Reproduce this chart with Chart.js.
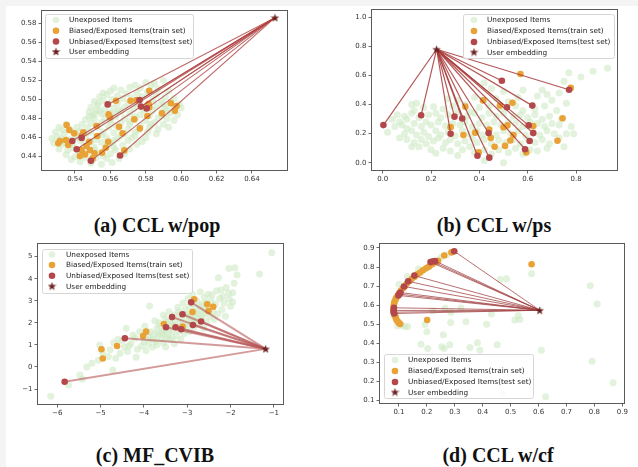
<!DOCTYPE html>
<html><head><meta charset="utf-8">
<script src="https://cdn.jsdelivr.net/npm/chart.js@4.4.1/dist/chart.umd.min.js"></script>
<style>
html,body{margin:0;padding:0}
body{width:638px;height:467px;overflow:hidden;position:relative;background:#f4f4f4}
#page{position:absolute;left:6px;top:6px;width:632px;height:461px;background:#fff}
canvas{position:absolute}
.cap{position:absolute;font:bold 20px "Liberation Serif",serif;color:#111;white-space:nowrap;transform:translateX(-50%);line-height:1}
</style></head>
<body>
<div id="page"></div>
<div class="cap" style="left:157px;top:215px">(a) CCL w/pop</div>
<div class="cap" style="left:494px;top:215px">(b) CCL w/ps</div>
<div class="cap" style="left:155px;top:445px">(c) MF_CVIB</div>
<div class="cap" style="left:498px;top:445px">(d) CCL w/cf</div>
<script>
const legendLabels = ['Unexposed Items','Biased/Exposed Items(train set)','Unbiased/Exposed Items(test set)','User embedding'];

// ---------- (a) CCL w/pop ----------
const aXTicks=[0.54,0.56,0.58,0.60,0.62,0.64];
const aXLabels=['0.54','0.56','0.58','0.60','0.62','0.64'];
const aYTicks=[0.44,0.46,0.48,0.50,0.52,0.54,0.56,0.58];
const aYLabels=['0.44','0.46','0.48','0.50','0.52','0.54','0.56','0.58'];
const aUser=[0.653,0.586];
const aTest=[[0.5585,0.4949],[0.5765,0.4994],[0.5773,0.4926],[0.5805,0.4907],[0.5438,0.4597],[0.5385,0.4564],[0.541,0.4478],[0.549,0.4356],[0.5655,0.4412]];
const aTrain=[[0.5632,0.4988],[0.5714,0.4988],[0.5748,0.4995],[0.582,0.5093],[0.5816,0.4956],[0.582,0.4918],[0.5809,0.4827],[0.5892,0.4855],[0.5942,0.496],[0.5974,0.4932],[0.5965,0.4883],[0.559,0.4844],[0.5598,0.4813],[0.5735,0.4792],[0.5649,0.4715],[0.5767,0.4697],[0.5669,0.4645],[0.5522,0.4722],[0.5526,0.4617],[0.5588,0.4557],[0.5575,0.4494],[0.5554,0.4442],[0.5679,0.4466],[0.5315,0.4564],[0.5306,0.454],[0.5353,0.4732],[0.5368,0.468],[0.5396,0.4645],[0.5349,0.4575],[0.5447,0.4655],[0.5438,0.462],[0.5481,0.4557],[0.5466,0.4512],[0.5438,0.447],[0.5457,0.4424],[0.5428,0.4406],[0.5485,0.447],[0.55,0.4382],[0.5511,0.4436],[0.5362,0.4522]];
const aUnexposed=[[0.590,0.520],[0.583,0.515],[0.577,0.512],[0.571,0.513],[0.566,0.510],[0.560,0.509],[0.587,0.511],[0.593,0.509],[0.554,0.503],[0.558,0.505],[0.564,0.504],[0.569,0.506],[0.575,0.507],[0.581,0.508],[0.586,0.505],[0.591,0.503],[0.596,0.501],[0.551,0.498],[0.556,0.499],[0.561,0.500],[0.567,0.501],[0.572,0.502],[0.578,0.503],[0.584,0.500],[0.589,0.498],[0.594,0.497],[0.599,0.495],[0.600,0.491],[0.549,0.492],[0.553,0.494],[0.559,0.495],[0.564,0.496],[0.570,0.497],[0.575,0.495],[0.581,0.494],[0.586,0.493],[0.591,0.492],[0.596,0.490],[0.548,0.487],[0.552,0.489],[0.557,0.490],[0.562,0.491],[0.568,0.492],[0.573,0.490],[0.579,0.489],[0.584,0.488],[0.589,0.487],[0.594,0.486],[0.598,0.484],[0.550,0.483],[0.555,0.485],[0.560,0.486],[0.566,0.487],[0.571,0.485],[0.577,0.484],[0.582,0.483],[0.587,0.481],[0.592,0.480],[0.596,0.478],[0.546,0.479],[0.551,0.480],[0.557,0.481],[0.563,0.482],[0.568,0.480],[0.574,0.479],[0.580,0.478],[0.585,0.476],[0.590,0.474],[0.593,0.471],[0.544,0.474],[0.549,0.475],[0.555,0.476],[0.560,0.477],[0.566,0.475],[0.571,0.474],[0.577,0.473],[0.582,0.471],[0.587,0.469],[0.586,0.464],[0.581,0.466],[0.576,0.468],[0.570,0.469],[0.565,0.470],[0.559,0.471],[0.553,0.471],[0.547,0.470],[0.541,0.471],[0.535,0.474],[0.531,0.471],[0.537,0.469],[0.543,0.467],[0.549,0.466],[0.556,0.466],[0.562,0.465],[0.568,0.464],[0.574,0.462],[0.580,0.460],[0.578,0.456],[0.529,0.466],[0.534,0.464],[0.540,0.463],[0.546,0.462],[0.552,0.461],[0.558,0.460],[0.564,0.459],[0.570,0.457],[0.575,0.453],[0.527,0.459],[0.532,0.459],[0.537,0.458],[0.543,0.457],[0.549,0.456],[0.555,0.455],[0.561,0.454],[0.567,0.452],[0.571,0.448],[0.528,0.454],[0.533,0.453],[0.539,0.452],[0.545,0.451],[0.551,0.450],[0.557,0.449],[0.563,0.447],[0.568,0.443],[0.531,0.448],[0.536,0.447],[0.542,0.446],[0.548,0.445],[0.554,0.444],[0.560,0.443],[0.565,0.438],[0.535,0.442],[0.540,0.440],[0.546,0.439],[0.552,0.439],[0.558,0.438],[0.543,0.435],[0.549,0.433],[0.555,0.432],[0.561,0.434],[0.556,0.507],[0.562,0.512],[0.574,0.515],[0.580,0.518],[0.585,0.517],[0.553,0.496],[0.576,0.498],[0.590,0.495],[0.597,0.493],[0.554,0.488],[0.565,0.489],[0.580,0.491],[0.592,0.489],[0.551,0.485],[0.563,0.485],[0.574,0.482],[0.589,0.483],[0.548,0.482],[0.560,0.479],[0.571,0.477],[0.583,0.474],[0.552,0.473],[0.563,0.473],[0.574,0.466],[0.539,0.466],[0.533,0.468],[0.546,0.465],[0.555,0.463],[0.566,0.462],[0.572,0.460],[0.530,0.461],[0.541,0.460],[0.552,0.458],[0.562,0.457],[0.534,0.456],[0.546,0.454],[0.558,0.452],[0.539,0.449],[0.551,0.447],[0.562,0.450],[0.544,0.442],[0.556,0.441],[0.550,0.436],[0.538,0.437]];

// ---------- (b) CCL w/ps ----------
const bXTicks=[0.0,0.2,0.4,0.6,0.8];
const bXLabels=['0.0','0.2','0.4','0.6','0.8'];
const bYTicks=[0.0,0.2,0.4,0.6,0.8,1.0];
const bYLabels=['0.0','0.2','0.4','0.6','0.8','1.0'];
const bUser=[0.223,0.781];
const bTest=[[0.003,0.259],[0.159,0.327],[0.297,0.317],[0.329,0.304],[0.281,0.199],[0.392,0.048],[0.441,0.035],[0.438,0.205],[0.493,0.564],[0.514,0.381],[0.619,0.393],[0.604,0.257],[0.623,0.204],[0.608,0.15],[0.589,0.093],[0.771,0.502]];
const bTrain=[[0.57,0.611],[0.778,0.515],[0.415,0.429],[0.342,0.386],[0.485,0.393],[0.537,0.413],[0.281,0.245],[0.334,0.191],[0.383,0.207],[0.441,0.228],[0.447,0.171],[0.5,0.244],[0.516,0.257],[0.541,0.19],[0.528,0.153],[0.506,0.116],[0.463,0.11],[0.397,0.071],[0.594,0.071],[0.623,0.252],[0.744,0.306],[0.723,0.151]];
const bUnexposed=[[0.14,0.41],[0.12,0.40],[0.27,0.44],[0.31,0.43],[0.38,0.45],[0.42,0.43],[0.47,0.44],[0.52,0.42],[0.56,0.45],[0.64,0.46],[0.68,0.47],[0.70,0.43],[0.66,0.50],[0.50,0.49],[0.42,0.55],[0.45,0.51],[0.58,0.50],[0.77,0.62],[0.82,0.59],[0.87,0.63],[0.93,0.65],[0.75,0.56],[0.73,0.48],[0.76,0.41],[0.06,0.33],[0.09,0.32],[0.17,0.38],[0.21,0.385],[0.25,0.37],[0.29,0.39],[0.34,0.40],[0.40,0.38],[0.44,0.39],[0.49,0.37],[0.55,0.39],[0.58,0.36],[0.63,0.37],[0.67,0.39],[0.72,0.36],[0.13,0.36],[0.36,0.35],[0.04,0.30],[0.07,0.28],[0.10,0.30],[0.12,0.34],[0.15,0.31],[0.19,0.33],[0.22,0.34],[0.24,0.31],[0.27,0.33],[0.31,0.35],[0.35,0.32],[0.38,0.34],[0.41,0.31],[0.44,0.34],[0.47,0.32],[0.50,0.34],[0.54,0.32],[0.57,0.33],[0.60,0.31],[0.63,0.33],[0.66,0.30],[0.69,0.32],[0.74,0.30],[0.02,0.21],[0.05,0.25],[0.08,0.26],[0.10,0.235],[0.13,0.27],[0.16,0.25],[0.18,0.28],[0.20,0.26],[0.23,0.28],[0.26,0.255],[0.29,0.27],[0.32,0.26],[0.34,0.28],[0.37,0.25],[0.40,0.27],[0.43,0.26],[0.46,0.28],[0.49,0.26],[0.52,0.28],[0.55,0.27],[0.58,0.25],[0.61,0.28],[0.64,0.27],[0.67,0.25],[0.70,0.27],[0.73,0.26],[0.78,0.25],[0.07,0.17],[0.09,0.20],[0.12,0.22],[0.14,0.19],[0.17,0.21],[0.19,0.18],[0.22,0.22],[0.24,0.19],[0.27,0.21],[0.30,0.185],[0.33,0.22],[0.36,0.20],[0.39,0.22],[0.41,0.19],[0.44,0.21],[0.47,0.19],[0.50,0.22],[0.53,0.20],[0.56,0.22],[0.59,0.19],[0.62,0.21],[0.65,0.19],[0.68,0.22],[0.71,0.20],[0.76,0.20],[0.79,0.20],[0.10,0.16],[0.13,0.14],[0.16,0.16],[0.18,0.13],[0.21,0.15],[0.23,0.17],[0.26,0.14],[0.28,0.16],[0.31,0.13],[0.34,0.15],[0.37,0.17],[0.39,0.14],[0.42,0.16],[0.45,0.13],[0.48,0.155],[0.51,0.14],[0.54,0.16],[0.57,0.13],[0.60,0.16],[0.63,0.14],[0.66,0.16],[0.69,0.13],[0.73,0.17],[0.12,0.11],[0.15,0.11],[0.20,0.09],[0.22,0.065],[0.25,0.10],[0.28,0.08],[0.31,0.05],[0.33,0.09],[0.36,0.11],[0.38,0.07],[0.42,0.09],[0.42,0.015],[0.45,0.06],[0.48,0.09],[0.50,0.0],[0.52,0.07],[0.55,0.10],[0.58,0.06],[0.61,0.09],[0.64,0.08],[0.68,0.10],[0.75,0.11]];

// ---------- (c) MF_CVIB ----------
const cXTicks=[-6,-5,-4,-3,-2,-1];
const cXLabels=['\u22126','\u22125','\u22124','\u22123','\u22122','\u22121'];
const cYTicks=[-1,0,1,2,3,4,5];
const cYLabels=['\u22121','0','1','2','3','4','5'];
const cUser=[-1.19,0.82];
const cTest=[[-5.83,-0.67],[-4.44,1.3],[-2.91,2.93],[-3.35,2.26],[-3.11,2.39],[-2.68,2.06],[-2.87,1.9],[-3.49,1.8],[-3.27,1.8],[-3.14,1.71]];
const cTrain=[[-4.98,0.8],[-4.95,0.38],[-4.62,0.95],[-4.02,1.4],[-3.95,1.6],[-3.54,1.95],[-3.11,1.83],[-2.84,3.07],[-2.88,2.49],[-2.54,2.84],[-2.51,2.54],[-2.4,2.73]];
const cUnexposed=[[-6.15,-1.33],[-5.74,-0.82],[-5.48,-0.36],[-5.42,-0.55],[-5.32,0.0],[-5.2,0.17],[-5.05,0.3],[-4.72,-0.14],[-4.82,0.47],[-4.95,0.62],[-5.02,1.0],[-4.78,0.78],[-4.65,0.4],[-4.55,0.62],[-4.7,1.1],[-4.6,1.25],[-4.45,0.9],[-4.38,0.7],[-4.18,0.44],[-4.3,1.05],[-4.2,1.3],[-4.41,1.75],[-4.15,0.8],[-4.05,0.95],[-4.0,1.15],[-3.95,0.75],[-4.1,1.6],[-3.98,1.85],[-3.87,2.76],[-3.85,1.3],[-3.9,1.05],[-3.8,0.9],[-3.75,1.5],[-3.7,1.75],[-3.72,1.15],[-3.65,2.0],[-3.6,1.3],[-3.55,1.1],[-3.5,0.9],[-3.58,1.6],[-3.5,2.2],[-3.45,1.45],[-3.4,1.25],[-3.42,2.5],[-3.38,1.95],[-3.35,1.6],[-3.3,1.05],[-3.28,2.1],[-3.25,1.4],[-3.22,2.7],[-3.2,1.65],[-3.18,2.35],[-3.15,1.25],[-3.12,2.0],[-3.1,2.9],[-3.08,1.5],[-3.05,2.6],[-3.02,1.85],[-3.0,2.25],[-2.98,3.1],[-2.95,1.6],[-2.92,2.45],[-2.9,2.05],[-2.88,3.3],[-2.85,1.8],[-2.82,2.7],[-2.8,2.3],[-2.78,3.0],[-2.75,1.95],[-2.72,2.55],[-2.7,3.4],[-2.68,2.2],[-2.65,2.85],[-2.62,1.75],[-2.6,3.15],[-2.58,2.45],[-2.55,2.05],[-2.52,3.3],[-2.5,2.7],[-2.48,2.3],[-2.45,3.0],[-2.43,3.26],[-2.4,2.5],[-2.38,2.15],[-2.35,2.85],[-2.32,3.45],[-2.3,2.4],[-2.28,4.05],[-2.25,3.1],[-2.22,3.49],[-2.2,2.6],[-2.18,3.19],[-2.15,2.9],[-2.12,2.3],[-2.1,3.6],[-2.05,3.34],[-2.04,4.46],[-2.03,3.08],[-2.0,2.75],[-1.95,3.37],[-1.92,3.79],[-1.9,4.5],[-1.85,4.17],[-1.95,2.95],[-1.33,4.21],[-1.05,5.18],[-3.9,1.4],[-3.78,1.25],[-3.68,1.45],[-3.62,1.85],[-3.52,1.65],[-3.48,1.35],[-3.4,1.7],[-3.32,1.9],[-3.3,2.35],[-3.25,1.85],[-3.15,2.15],[-3.1,1.75],[-3.05,2.4],[-3.0,1.95],[-2.95,2.75],[-2.9,2.2],[-2.85,2.5],[-2.75,2.4],[-2.7,2.75],[-2.65,2.3],[-2.6,2.6],[-2.55,2.9],[-2.8,2.1],[-2.95,2.3],[-3.2,2.5],[-3.45,2.05],[-3.6,1.5],[-3.7,1.0],[-3.35,1.3],[-3.55,2.35],[-3.75,2.1],[-3.85,1.6],[-4.25,1.45],[-4.5,1.2],[-4.35,0.95]];

// ---------- (d) CCL w/cf ----------
const dXTicks=[0.1,0.2,0.3,0.4,0.5,0.6,0.7,0.8,0.9];
const dXLabels=['0.1','0.2','0.3','0.4','0.5','0.6','0.7','0.8','0.9'];
const dYTicks=[0.1,0.2,0.3,0.4,0.5,0.6,0.7,0.8,0.9];
const dYLabels=['0.1','0.2','0.3','0.4','0.5','0.6','0.7','0.8','0.9'];
const dUser=[0.604,0.573];
const dTest=[[0.298,0.883],[0.229,0.832],[0.213,0.826],[0.22,0.829],[0.155,0.755],[0.133,0.725],[0.118,0.698],[0.105,0.666],[0.102,0.658],[0.098,0.651],[0.082,0.586],[0.081,0.572],[0.081,0.563],[0.083,0.556]];
const dTrain=[[0.104,0.501],[0.099,0.508],[0.094,0.517],[0.09,0.526],[0.088,0.537],[0.085,0.546],[0.083,0.556],[0.081,0.569],[0.08,0.579],[0.081,0.591],[0.082,0.603],[0.083,0.613],[0.087,0.627],[0.09,0.637],[0.096,0.651],[0.101,0.663],[0.107,0.675],[0.114,0.689],[0.121,0.699],[0.128,0.713],[0.137,0.725],[0.146,0.738],[0.156,0.749],[0.166,0.762],[0.176,0.771],[0.186,0.783],[0.197,0.793],[0.207,0.802],[0.219,0.814],[0.231,0.825],[0.24,0.833],[0.262,0.861],[0.288,0.877],[0.575,0.815],[0.201,0.522]];
const dUnexposed=[[0.575,0.765],[0.462,0.735],[0.485,0.738],[0.785,0.702],[0.81,0.606],[0.222,0.571],[0.265,0.583],[0.286,0.562],[0.322,0.585],[0.34,0.513],[0.285,0.509],[0.414,0.5],[0.431,0.553],[0.515,0.522],[0.527,0.545],[0.533,0.524],[0.121,0.486],[0.131,0.488],[0.193,0.498],[0.2,0.46],[0.259,0.444],[0.179,0.395],[0.203,0.372],[0.253,0.381],[0.262,0.372],[0.282,0.392],[0.354,0.377],[0.381,0.403],[0.39,0.363],[0.452,0.392],[0.61,0.363],[0.792,0.305],[0.867,0.193],[0.625,0.119],[0.471,0.137],[0.49,0.25],[0.08,0.55],[0.085,0.62],[0.09,0.64],[0.095,0.49],[0.11,0.495],[0.1,0.71],[0.13,0.75],[0.17,0.79],[0.25,0.85],[0.27,0.865]];

// ---------- drawing ----------
const GREEN='rgba(206,233,197,0.6)', ORANGE='#e8a236', RED='#b3474a', STAR='#6b2121';

function starCanvas(size,color){
  const c=document.createElement('canvas'); c.width=c.height=size;
  const g=c.getContext('2d'); g.fillStyle=color; g.beginPath();
  for(let i=0;i<10;i++){const r=i%2?size*0.21:size*0.5;const a=-Math.PI/2+i*Math.PI/5;
    g.lineTo(size/2+r*Math.cos(a),size*0.55+r*Math.sin(a));}
  g.closePath(); g.fill(); return c;
}
const starImg=starCanvas(9,STAR);

const framePlugin={id:'frame',afterDatasetsDraw(chart){
  const {ctx,chartArea:a}=chart; ctx.save(); ctx.strokeStyle='#5a5a5a'; ctx.lineWidth=1;
  ctx.strokeRect(Math.round(a.left)-0.5,Math.round(a.top)-0.5,Math.round(a.right-a.left)+1,Math.round(a.bottom-a.top)+1);
  ctx.restore();}};

const legendPlugin={id:'ilegend',afterDraw(chart){
  const o=chart.options.plugins.ilegend; if(!o) return;
  const ctx=chart.ctx; ctx.save();
  const [x,y,w,h]=o.box;
  ctx.fillStyle='rgba(255,255,255,0.82)'; ctx.strokeStyle='#d6d6d6'; ctx.lineWidth=1;
  ctx.beginPath(); ctx.roundRect(x+0.5,y+0.5,w,h,2); ctx.fill(); ctx.stroke();
  const cols=[GREEN,ORANGE,RED,null];
  ctx.font='7.3px "DejaVu Sans"'; ctx.textBaseline='middle'; ctx.textAlign='left';
  o.rows.forEach((ry,i)=>{
    if(cols[i]){ctx.fillStyle=cols[i]; ctx.beginPath(); ctx.arc(o.mx,ry,3.3,0,Math.PI*2); ctx.fill();}
    else ctx.drawImage(starImg,o.mx-4.5,ry-5);
    ctx.fillStyle='#222'; ctx.fillText(legendLabels[i],o.tx,ry+0.5);
  });
  ctx.restore();}};

const panels=[
 {box:[42,11,287,170],xr:[0.5214,0.6598],yr:[0.426,0.593],xt:aXTicks,xl:aXLabels,yt:aYTicks,yl:aYLabels,un:aUnexposed,tr:aTrain,te:aTest,user:aUser,lc:'rgba(176,66,66,0.8)',lw:1.1,leg:{box:[45,14,148,44],mx:56,tx:69,rows:[20,30.7,41.5,52]}},
 {box:[372,10,617,170],xr:[-0.0443,0.9694],yr:[-0.05,1.051],xt:bXTicks,xl:bXLabels,yt:bYTicks,yl:bYLabels,un:bUnexposed,tr:bTrain,te:bTest,user:bUser,lc:'rgba(168,58,58,0.85)',lw:1.2,leg:{box:[463,14,151,44],mx:474,tx:487,rows:[20,31,42,52.5]}},
 {box:[38,244,283,404],xr:[-6.445,-0.79],yr:[-1.68,5.575],xt:cXTicks,xl:cXLabels,yt:cYTicks,yl:cYLabels,un:cUnexposed,tr:cTrain,te:cTest,user:cUser,lc:'rgba(184,86,86,0.6)',lw:2,leg:{box:[42,249,150,44],mx:52,tx:66,rows:[254.5,265,275.8,286.5]}},
 {box:[380,244,624,403],xr:[0.032,0.906],yr:[0.086,0.921],xt:dXTicks,xl:dXLabels,yt:dYTicks,yl:dYLabels,un:dUnexposed,tr:dTrain,te:dTest,user:dUser,lc:'rgba(160,64,64,0.75)',lw:1,leg:{box:[384,354,149,44],mx:395,tx:408,rows:[360,371,382,392.5]}}
];

const YW=36, XH=20, PT=8, PR=12;
const pts=arr=>arr.map(p=>({x:p[0],y:p[1]}));
panels.forEach(p=>{
  const [L,T,R,B]=p.box;
  const cl=L-YW, ct=T-PT, cw=(R-L)+YW+PR, ch=(B-T)+PT+XH;
  const cv=document.createElement('canvas'); cv.width=cw; cv.height=ch;
  cv.style.left=cl+'px'; cv.style.top=ct+'px'; cv.style.width=cw+'px'; cv.style.height=ch+'px';
  document.body.appendChild(cv);
  const ds=[];
  ds.push({type:'scatter',data:pts(p.un),backgroundColor:GREEN,borderWidth:0,pointRadius:3.5,order:10});
  ds.push({type:'scatter',data:pts(p.tr),backgroundColor:ORANGE,borderWidth:0,pointRadius:3.3,order:9});
  p.te.forEach(t=>ds.push({type:'line',data:[{x:p.user[0],y:p.user[1]},{x:t[0],y:t[1]}],borderColor:p.lc,borderWidth:p.lw,pointRadius:0,fill:false,order:8}));
  ds.push({type:'scatter',data:pts(p.te),backgroundColor:RED,borderWidth:0,pointRadius:3.3,order:7});
  ds.push({type:'scatter',data:[{x:p.user[0],y:p.user[1]}],pointStyle:starImg,pointRadius:4.5,order:6});
  const tickFont={size:7,family:'"DejaVu Sans"'};
  new Chart(cv,{
    type:'scatter',
    data:{datasets:ds},
    plugins:[framePlugin,legendPlugin],
    options:{
      responsive:false,animation:false,devicePixelRatio:1,events:[],
      layout:{padding:{left:0,top:PT,right:PR,bottom:0}},
      plugins:{legend:{display:false},tooltip:{enabled:false},
        ilegend:{box:[p.leg.box[0]-cl,p.leg.box[1]-ct,p.leg.box[2],p.leg.box[3]],mx:p.leg.mx-cl,tx:p.leg.tx-cl,rows:p.leg.rows.map(r=>r-ct)}},
      scales:{
        x:{type:'linear',min:p.xr[0],max:p.xr[1],
          afterFit(s){s.height=XH;},
          afterBuildTicks(s){s.ticks=p.xt.map(v=>({value:v}));},
          ticks:{font:tickFont,color:'#333',padding:1.5,maxRotation:0,autoSkip:false,callback:(v,i)=>p.xl[i]},
          grid:{drawOnChartArea:false,drawTicks:true,tickLength:3.5,color:'#444',lineWidth:0.8},
          border:{display:false}},
        y:{type:'linear',min:p.yr[0],max:p.yr[1],
          afterFit(s){s.width=YW;},
          afterBuildTicks(s){s.ticks=p.yt.map(v=>({value:v}));},
          ticks:{font:tickFont,color:'#333',padding:2,autoSkip:false,callback:(v,i)=>p.yl[i]},
          grid:{drawOnChartArea:false,drawTicks:true,tickLength:3.5,color:'#444',lineWidth:0.8},
          border:{display:false}}
      }
    }
  });
});
</script>
</body></html>
